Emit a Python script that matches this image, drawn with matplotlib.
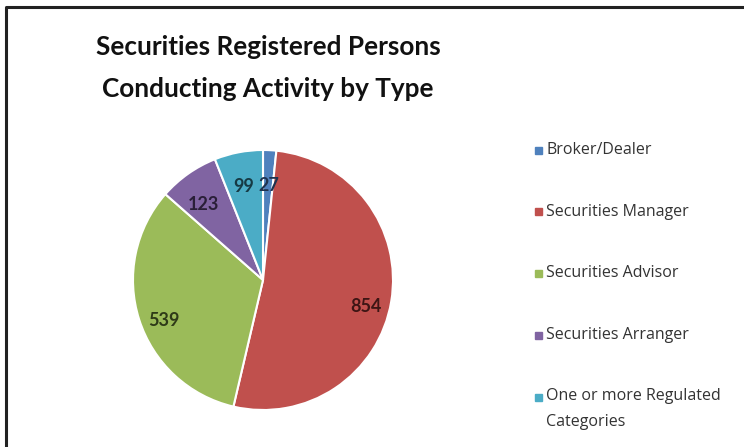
import matplotlib
matplotlib.use('Agg')
import matplotlib.pyplot as plt
from matplotlib.patches import Rectangle
from matplotlib.lines import Line2D

categories = ['Broker/Dealer', 'Securities Manager', 'Securities Advisor',
              'Securities Arranger', 'One or more Regulated\nCategories']
counts = [27, 854, 539, 123, 99]
colors = ['#4F81BD', '#C0504D', '#9BBB59', '#8064A2', '#4BACC6']
label_colors = ['#1f3350', '#3d1514', '#2e3a18', '#2a1f38', '#163a44']

plt.rcParams['font.family'] = ['Lato', 'DejaVu Sans']

fig = plt.figure(figsize=(7.44, 4.47), dpi=100)
W, H = 744, 447

# pie: centre (263, 280) px, radius 130 px
ax = fig.add_axes([133 / W, (H - 410) / H, 260 / W, 260 / H])
wedges, _, autotexts = ax.pie(
    counts, colors=colors, startangle=90, counterclock=False,
    autopct=lambda p: f'{p * sum(counts) / 100:.0f}', pctdistance=0.8,
    wedgeprops=dict(edgecolor='white', linewidth=1.5))
for t, c in zip(autotexts, label_colors):
    x, y = t.get_position()
    t.set_position((x, y - 0.07))
    t.set_color(c)
    t.set_fontsize(13)
    t.set_fontweight('bold')
ax.set_xlim(-1, 1)
ax.set_ylim(-1, 1)
ax.set_aspect('equal')
ax.axis('off')

# title
fig.text(268 / W, 1 - 47 / H, 'Securities Registered Persons', ha='center', va='center',
         fontsize=18.8, fontweight='bold', color='#111111')
fig.text(268 / W, 1 - 89 / H, 'Conducting Activity by Type', ha='center', va='center',
         fontsize=18.8, fontweight='bold', color='#111111')

# legend drawn by hand so the marker sits on the first text line
legend_y = [150, 212, 273, 335, 397]
for name, col, y in zip(categories, colors, legend_y):
    fig.patches.append(Rectangle((535 / W, 1 - (y + 3.5) / H), 7 / W, 7 / H,
                                 transform=fig.transFigure, color=col))
    if '\n' in name:
        fig.text(546 / W, 1 - (y - 9) / H, name, ha='left', va='top',
                 fontsize=11.5, color='#333333', linespacing=1.8,
                 family=['Open Sans', 'DejaVu Sans'])
    else:
        fig.text(546 / W, 1 - y / H, name, ha='left', va='center',
                 fontsize=11.5, color='#333333',
                 family=['Open Sans', 'DejaVu Sans'])

# frame: only top and left edges are inside the image
fig.add_artist(Line2D([5.5 / W, 5.5 / W, 1], [0, 1 - 7 / H, 1 - 7 / H],
                      transform=fig.transFigure, color='#222222', linewidth=2.2))

fig.savefig('out.png', dpi=100)
